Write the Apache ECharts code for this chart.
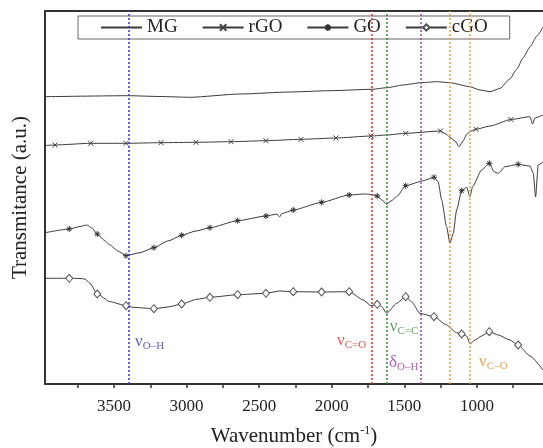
<!DOCTYPE html>
<html>
<head>
<meta charset="utf-8">
<script src="https://cdn.jsdelivr.net/npm/echarts@6/dist/echarts.min.js"></script>
<style>
  html, body { margin: 0; padding: 0; background: #fff; }
  #chart { width: 543px; height: 448px; }
</style>
</head>
<body>
<div id="chart"></div>
<script>
// ---------- data ----------
const seriesNames = ['MG', 'rGO', 'GO', 'cGO'];

const mgWn = [3975, 3400, 3183, 2977, 2632, 2288, 2012, 1723, 1620, 1510, 1386, 1276, 1186, 1048, 979, 910, 842, 773, 725, 683, 635, 587, 545];
const mgT  = [287.3, 288.3, 287.5, 286.7, 290, 292, 293.3, 294.7, 296.3, 299, 301.3, 302.3, 301.3, 297.3, 294, 292.3, 295.5, 305, 315, 326, 337, 348, 357];

const rgoWn = [3975, 3906, 3660, 3417, 3176, 2935, 2694, 2453, 2212, 1971, 1730, 1622, 1491, 1251, 1213, 1186, 1151, 1122, 1096, 1069, 1041, 1007, 910, 766, 635, 617, 601, 545];
const rgoT  = [238.5, 239, 240.7, 240.7, 241.3, 241.7, 242.3, 243.3, 244.7, 246, 248, 249, 250.7, 253, 250, 246.7, 243, 237.3, 243, 250, 253, 254.7, 258, 264.5, 267.3, 260, 266, 269];
const rgoMarks = [3906, 3660, 3417, 3176, 2935, 2694, 2453, 2212, 1971, 1730, 1491, 1251, 1007, 766];

const goWn = [3975, 3808, 3734, 3688, 3652, 3615, 3569, 3528, 3472, 3417, 3321, 3225, 3128, 3034, 2935, 2839, 2648, 2453, 2377, 2360, 2343, 2265, 2070, 1880, 1771, 1725, 1687, 1654, 1622, 1592, 1553, 1491, 1370, 1296, 1267, 1243, 1209, 1186, 1163, 1140, 1105, 1071, 1048, 1030, 968, 915, 883, 853, 807, 716, 635, 612, 596, 578, 545];
const goT  = [151.3, 155, 157.5, 159, 156, 150, 144, 139, 133, 128.3, 131.3, 136.3, 143, 148.7, 153, 156.3, 163.3, 168, 170, 167, 170.5, 174, 181.7, 189, 190, 189.5, 188, 184, 179.7, 183, 187.3, 198.3, 203.3, 206.7, 202.3, 184, 157.3, 140.7, 150.7, 174, 193.3, 196.7, 187.3, 197.3, 214, 220.7, 212.3, 210.7, 217.3, 219.7, 218, 210.7, 187, 219, 222];
const goMarks = [3808, 3615, 3417, 3225, 3034, 2839, 2648, 2453, 2265, 2070, 1880, 1687, 1491, 1296, 1105, 915, 716];

const cgoWn = [3975, 3808, 3734, 3700, 3665, 3615, 3528, 3417, 3369, 3225, 3128, 3034, 2930, 2839, 2648, 2453, 2357, 2265, 2070, 1880, 1783, 1730, 1687, 1656, 1622, 1553, 1491, 1450, 1393, 1296, 1209, 1140, 1105, 1071, 1048, 1014, 968, 915, 853, 773, 716, 635, 545];
const cgoT  = [105.7, 105.7, 105.5, 105, 100.7, 90, 82.3, 78.3, 76.7, 75.3, 77, 80, 84.7, 86.7, 89.3, 90.7, 93, 92.3, 92, 92.3, 84, 78.3, 79.7, 77.3, 70.7, 80.7, 87.3, 82.3, 70.7, 67.3, 59, 51.3, 50, 48, 40, 44, 48, 52.3, 49, 44, 39, 28, 14];
const cgoMarks = [3808, 3615, 3417, 3225, 3034, 2839, 2648, 2453, 2265, 2070, 1880, 1687, 1491, 1296, 1105, 915, 716];

// axis ticks / labels
const tickValues = [750, 1000, 1250, 1500, 1750, 2000, 2250, 2500, 2750, 3000, 3250, 3500, 3750];
const tickLabels = [1000, 1500, 2000, 2500, 3000, 3500];

// band assignments (dotted vertical lines)
const bandWn = [3400, 1725, 1620, 1390, 1185, 1050];
// band labels
const bandLabelSym = ['ν', 'ν', 'ν', 'δ', 'ν'];
const bandLabelSub = ['O–H', 'C=O', 'C=C', 'O–H', 'C–O'];
const bandLabelWn  = [3355, 1964, 1600, 1606, 985];
const bandLabelT   = [42, 43, 57, 21, 22];

// ---------- styles ----------
const serif = "'Liberation Serif', 'DejaVu Serif', serif";
const bandColors = ['#3535d0', '#e02a2a', '#2e8b2e', '#a03cc0', '#f5a030', '#f5a030'];
const labelColors = ['#3030d0', '#e02a2a', '#2e8b2e', '#9a35b5', '#f08a20'];
const lineColor = '#3a3a3a';

function build(wn, t, marks) {
  return wn.map((w, i) => (marks && marks.indexOf(w) >= 0) ? [w, t[i]] : { value: [w, t[i]], symbol: 'none' });
}

const crossPath = 'path://M0,0L10,10M10,0L0,10';
const starPath = 'path://M5,0L5,10M0,5L10,5M1.5,1.5L8.5,8.5M8.5,1.5L1.5,8.5';

const baseLine = {
  type: 'line',
  smooth: 0.2,
  smoothMonotone: 'x',
  lineStyle: { color: lineColor, width: 1 },
  emphasis: { disabled: true },
  z: 3
};

const chart = echarts.init(document.getElementById('chart'), null, { renderer: 'canvas' });

const annotationData = bandLabelWn.map((w, i) => ({
  value: [w, bandLabelT[i]],
  label: {
    formatter: '{n|' + bandLabelSym[i] + '}{s|' + bandLabelSub[i] + '}',
    rich: {
      n: { fontSize: 17, fontFamily: serif, color: labelColors[i] },
      s: { fontSize: 11, fontFamily: serif, color: labelColors[i], padding: [9, 0, 0, 0] }
    }
  }
}));

chart.setOption({
  animation: false,
  backgroundColor: '#fff',
  grid: { left: 45, right: 0, top: 11, bottom: 64, containLabel: false, outerBoundsMode: 'none' },
  legend: {
    data: seriesNames,
    left: 78, top: 16,
    padding: [2, 22, 2, 22],
    itemGap: 24,
    itemWidth: 41,
    itemHeight: 8,
    borderColor: '#666',
    borderWidth: 1,
    borderRadius: 0,
    textStyle: { fontFamily: serif, fontSize: 19, color: '#222' },
    selectedMode: false
  },
  xAxis: [{
    type: 'value',
    inverse: true,
    min: 545, max: 3975,
    axisLine: { show: true, onZero: false, lineStyle: { color: '#333', width: 2 } },
    axisTick: { show: true, customValues: tickValues, length: 4, lineStyle: { color: '#333', width: 1.5 } },
    axisLabel: { customValues: tickLabels, formatter: v => String(v), fontFamily: serif, fontSize: 17, color: '#222', margin: 14 },
    splitLine: { show: false },
    name: '{a|Wavenumber (cm}{sup|-1}{a|)}',
    nameLocation: 'middle',
    nameGap: 41,
    nameTextStyle: {
      rich: {
        a: { fontFamily: serif, fontSize: 21, color: '#222' },
        sup: { fontFamily: serif, fontSize: 12, color: '#222', padding: [0, 0, 11, 0] }
      }
    }
  }, {
    type: 'value',
    position: 'top',
    inverse: true,
    min: 545, max: 3975,
    axisLine: { show: true, onZero: false, lineStyle: { color: '#333', width: 2 } },
    axisTick: { show: false },
    axisLabel: { show: false },
    splitLine: { show: false }
  }],
  yAxis: {
    type: 'value',
    min: 0, max: 373,
    axisLine: { show: true, onZero: false, lineStyle: { color: '#333', width: 2 } },
    axisTick: { show: false },
    axisLabel: { show: false },
    splitLine: { show: false },
    name: 'Transmitance (a.u.)',
    nameLocation: 'middle',
    nameGap: 14,
    nameTextStyle: { fontFamily: serif, fontSize: 21, color: '#222' }
  },
  series: [
    Object.assign({}, baseLine, {
      name: 'MG', data: build(mgWn, mgT, null), symbol: 'circle', symbolSize: 0,
      itemStyle: { color: 'rgba(0,0,0,0)', borderWidth: 0 }
    }),
    Object.assign({}, baseLine, {
      name: 'rGO', data: build(rgoWn, rgoT, rgoMarks), symbol: crossPath, symbolSize: 5,
      itemStyle: { color: lineColor, borderColor: '#444', borderWidth: 1 }
    }),
    Object.assign({}, baseLine, {
      name: 'GO', data: build(goWn, goT, goMarks), symbol: starPath, symbolSize: 6,
      itemStyle: { color: lineColor, borderColor: '#333', borderWidth: 1 }
    }),
    Object.assign({}, baseLine, {
      name: 'cGO', data: build(cgoWn, cgoT, cgoMarks), symbol: 'diamond', symbolSize: [7, 8],
      itemStyle: { color: '#fff', borderColor: '#555', borderWidth: 1 }
    }),
    {
      name: 'bands',
      type: 'scatter',
      symbol: 'circle',
      symbolSize: 0,
      silent: true,
      z: 5,
      data: annotationData,
      label: { show: true, position: 'right', distance: 0 },
      markLine: {
        silent: true,
        symbol: ['none', 'none'],
        label: { show: false },
        lineStyle: { type: [2, 2], width: 1.5 },
        data: bandWn.map((w, i) => ({ xAxis: w, lineStyle: { color: bandColors[i], type: [2, 2], width: 1.5 } }))
      }
    }
  ]
});
</script>
</body>
</html>
